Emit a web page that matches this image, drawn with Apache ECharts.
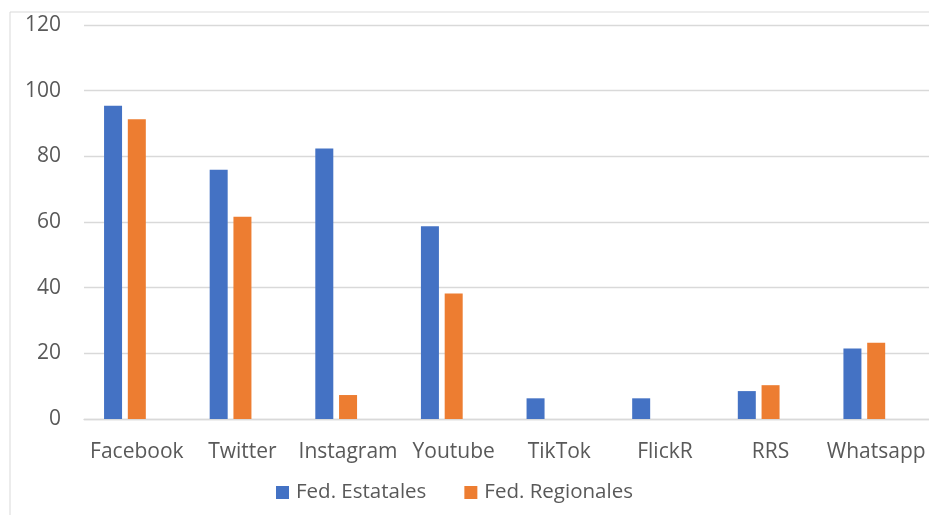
<!DOCTYPE html>
<html>
<head>
<meta charset="utf-8">
<script src="https://cdn.jsdelivr.net/npm/echarts@6/dist/echarts.min.js"></script>
<style>
html,body{margin:0;padding:0;background:#fff;}
#c{width:929px;height:515px;}
</style>
</head>
<body>
<div id="c"></div>
<script>
const categories = ['Facebook','Twitter','Instagram','Youtube','TikTok','FlickR','RRS','Whatsapp'];
const fedEstatales = [95.4, 75.9, 82.4, 58.7, 6.3, 6.3, 8.5, 21.5];
const fedRegionales = [91.3, 61.6, 7.3, 38.2, null, null, 10.3, 23.2];
const emptySeries = [null, null, null, null, null, null, null, null];
const yTicks = [0, 20, 40, 60, 80, 100, 120];

const chart = echarts.init(document.getElementById('c'));
const font = '"Open Sans", sans-serif';
chart.setOption({
  animation: false,
  graphic: [{
    type: 'rect', silent: true,
    shape: {x: 10, y: 12, width: 1000, height: 1000},
    style: {fill: 'none', stroke: '#d9d9d9', lineWidth: 1}
  }],
  grid: {left: 84, top: 25, width: 850, height: 394},
  legend: {
    data: ['Fed. Estatales', 'Fed. Regionales'],
    left: 271, top: 477,
    itemWidth: 13, itemHeight: 13, itemGap: 38,
    icon: 'rect',
    textStyle: {fontFamily: font, fontSize: 20.5, color: '#595959', padding: [0, 0, 0, 2]}
  },
  xAxis: {
    type: 'category',
    data: categories,
    axisLine: {lineStyle: {color: '#d9d9d9', width: 1.3}},
    axisTick: {show: false},
    axisLabel: {fontFamily: font, fontSize: 21, color: '#595959', margin: 23, interval: 0}
  },
  yAxis: {
    type: 'value',
    min: yTicks[0], max: yTicks[yTicks.length - 1], interval: 20,
    axisLine: {show: false},
    axisTick: {show: false},
    splitLine: {lineStyle: {color: '#d9d9d9', width: 1.3}},
    axisLabel: {fontFamily: font, fontSize: 21, color: '#595959', margin: 23}
  },
  series: [
    {name: 'Fed. Estatales', type: 'bar', data: fedEstatales, barWidth: 18, barGap: '32%',
     itemStyle: {color: '#4472C4'}},
    {name: 'Fed. Regionales', type: 'bar', data: fedRegionales, barWidth: 18, barGap: '32%',
     itemStyle: {color: '#ED7D31'}},
    {name: 'Serie 3', type: 'bar', data: emptySeries, barWidth: 18, barGap: '32%',
     itemStyle: {color: '#A5A5A5'}}
  ]
});
</script>
</body>
</html>
